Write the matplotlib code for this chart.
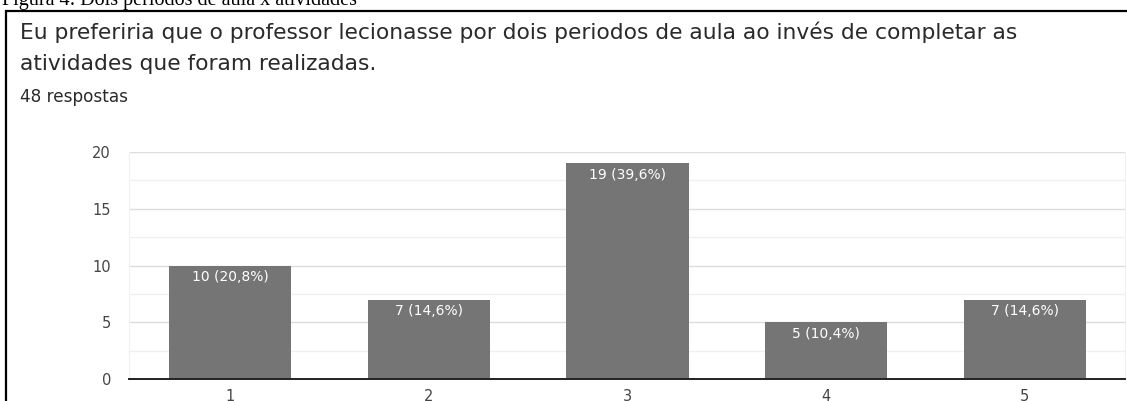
import matplotlib.pyplot as plt
from matplotlib.patches import Rectangle
from matplotlib.ticker import MultipleLocator

# dados do gráfico (Google Forms)
categorias = ["1", "2", "3", "4", "5"]
respostas = [10, 7, 19, 5, 7]
rotulos = ["10 (20,8%)", "7 (14,6%)", "19 (39,6%)", "5 (10,4%)", "7 (14,6%)"]
pergunta_l1 = "Eu preferiria que o professor lecionasse por dois periodos de aula ao invés de completar as"
pergunta_l2 = "atividades que foram realizadas."
total_txt = "48 respostas"
legenda_fig = "Figura 4: Dois períodos de aula x atividades"

W, H = 1127, 401
fig = plt.figure(figsize=(W / 100, H / 100), dpi=100)
fig.patch.set_facecolor("white")
renderer = fig.canvas.get_renderer()


def ajusta(t, largura):
    # escala a fonte para a largura (px) medida na imagem original
    w = t.get_window_extent(renderer).width
    t.set_fontsize(t.get_fontsize() * largura / w)


# caixa da figura
fig.patches.append(Rectangle((6 / W, -0.1), 1.2, (H - 11) / H + 0.1,
                             transform=fig.transFigure, fill=False,
                             edgecolor="black", lw=1.6))

# legenda cortada no topo (como na imagem original)
t0 = fig.text(2 / W, 1 - 5 / H, legenda_fig, family="Liberation Serif",
              fontsize=17, color="black", ha="left", va="baseline")
ajusta(t0, 356)

t1 = fig.text(20 / W, 1 - 39 / H, pergunta_l1, family="DejaVu Sans",
              fontsize=13, color="#2a2a2a", ha="left", va="baseline")
ajusta(t1, 997)
t2 = fig.text(20 / W, 1 - 70 / H, pergunta_l2, family="DejaVu Sans",
              fontsize=t1.get_fontsize(), color="#2a2a2a", ha="left", va="baseline")
t3 = fig.text(20 / W, 1 - 102 / H, total_txt, family="DejaVu Sans",
              fontsize=10, color="#2a2a2a", ha="left", va="baseline")
ajusta(t3, 108)

ax = fig.add_axes([129 / W, 22 / H, (1125 - 129) / W, (379 - 152) / H])
x = list(range(1, len(categorias) + 1))
bars = ax.bar(x, respostas, width=0.615, color="#757575", zorder=3)

for b, txt in zip(bars, rotulos):
    ax.annotate(txt, (b.get_x() + b.get_width() / 2, b.get_height()),
                xytext=(0, -3.5), textcoords="offset points",
                ha="center", va="top", color="white", fontsize=10,
                family="DejaVu Sans", zorder=4)

ax.set_xlim(0.491, 5.504)
ax.set_ylim(0, 20)
ax.yaxis.set_major_locator(MultipleLocator(5))
ax.yaxis.set_minor_locator(MultipleLocator(2.5))
ax.grid(axis="y", which="major", color="#dddddd", lw=1.0, zorder=0)
ax.grid(axis="y", which="minor", color="#f0f0f0", lw=1.0, zorder=0)
ax.set_xticks(x)
ax.set_xticklabels(categorias)
ax.tick_params(axis="both", which="both", length=0, labelsize=10.5, colors="#444444")
ax.tick_params(axis="y", pad=13)
ax.tick_params(axis="x", pad=7)

ax.spines["top"].set_visible(False)
ax.spines["left"].set_color("#f0f0f0")
ax.spines["right"].set_color("#f0f0f0")
ax.spines["bottom"].set_color("#222222")
ax.spines["bottom"].set_linewidth(1.4)
ax.spines["bottom"].set_zorder(5)

fig.savefig("out.png", dpi=100, facecolor="white")
